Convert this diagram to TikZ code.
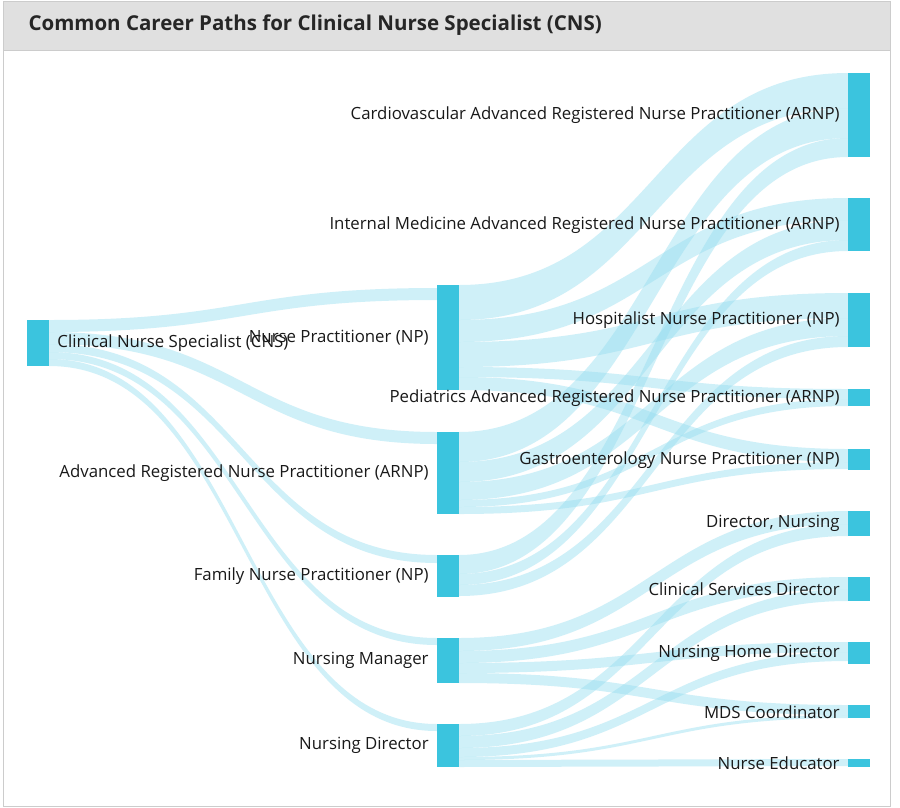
\documentclass[tikz,border=0pt]{standalone}
\usepackage{fontspec}
\setmainfont{Open Sans}
\usetikzlibrary{positioning,calc}
\definecolor{barcol}{RGB}{59,196,222}
\definecolor{flowcol}{RGB}{150,222,240}
\definecolor{headcol}{RGB}{224,224,224}
\tikzset{
  bar/.style={fill=barcol, inner sep=0pt, minimum width=22pt, anchor=north},
  flowband/.style={fill=flowcol, fill opacity=0.45},
  lbl/.style={font=\fontsize{16.8}{19}\selectfont, inner sep=0pt, text=black!90},
}
% band from #1 (offset #2) to #3 (offset #4), width #5
\newcommand\flow[5]{%
  \fill[flowband] let \p1=($(#1.north east)+(0,#2)$), \p2=($(#3.north west)+(0,#4)$),
    \p3=($(\p1)!0.5!(\p2)$) in
    (\p1) .. controls (\x3,\y1) and (\x3,\y2) .. (\p2)
    -- (\x2,\y2-#5pt) .. controls (\x3,\y2-#5pt) and (\x3,\y1-#5pt) .. (\x1,\y1-#5pt) -- cycle;}
\begin{document}
\begin{tikzpicture}[x=1pt,y=-1pt]
  \useasboundingbox (0,0) rectangle (900,807);
  \fill[white] (0,0) rectangle (900,807);
  \draw[black!20, fill=headcol] (3,1) rectangle (890,50);
  \draw[black!20] (3,50) rectangle (890,806);
  \node[anchor=west, font=\bfseries\fontsize{20.5}{24}\selectfont, text=black!85] (title) at (25,25)
    {Common Career Paths for Clinical Nurse Specialist (CNS)};
  % bars
  \node[bar, minimum height=46pt] (cns) at (38,320) {};
  \node[bar, minimum height=105pt] (np) at (448,285) {};
  \node[bar, minimum height=82pt] (arnp) at (448,432) {};
  \node[bar, minimum height=42pt] (fnp) at (448,555) {};
  \node[bar, minimum height=45pt] (mgr) at (448,638) {};
  \node[bar, minimum height=43pt] (dir) at (448,724) {};
  \node[bar, minimum height=84pt] (cardio) at (859,73) {};
  \node[bar, minimum height=53pt] (intmed) at (859,198) {};
  \node[bar, minimum height=54pt] (hosp) at (859,293) {};
  \node[bar, minimum height=17pt] (peds) at (859,389) {};
  \node[bar, minimum height=21pt] (gastro) at (859,449) {};
  \node[bar, minimum height=25pt] (dirn) at (859,511) {};
  \node[bar, minimum height=24pt] (csd) at (859,577) {};
  \node[bar, minimum height=22pt] (nhd) at (859,642) {};
  \node[bar, minimum height=13pt] (mds) at (859,705) {};
  \node[bar, minimum height=8pt] (educ) at (859,759) {};
  % flows
  \flow{cns}{0}{np}{3}{12}
  \flow{cns}{12}{arnp}{0}{12}
  \flow{cns}{24}{fnp}{0}{8}
  \flow{cns}{32}{mgr}{0}{7}
  \flow{cns}{39}{dir}{0}{7}
  \flow{np}{0}{cardio}{0}{35}
  \flow{np}{35}{intmed}{0}{22}
  \flow{np}{57}{hosp}{0}{25}
  \flow{np}{82}{peds}{0}{10}
  \flow{np}{92}{gastro}{0}{13}
  \flow{arnp}{0}{cardio}{35}{30}
  \flow{arnp}{30}{intmed}{22}{20}
  \flow{arnp}{50}{hosp}{25}{18}
  \flow{arnp}{68}{peds}{10}{7}
  \flow{arnp}{75}{gastro}{13}{7}
  \flow{fnp}{0}{cardio}{65}{19}
  \flow{fnp}{19}{intmed}{42}{11}
  \flow{fnp}{30}{hosp}{43}{11}
  \flow{mgr}{0}{dirn}{0}{13}
  \flow{mgr}{13}{csd}{0}{12}
  \flow{mgr}{25}{nhd}{0}{10}
  \flow{mgr}{35}{mds}{0}{10}
  \flow{dir}{0}{dirn}{13}{12}
  \flow{dir}{12}{csd}{12}{12}
  \flow{dir}{24}{nhd}{10}{9}
  \flow{dir}{33}{mds}{10}{3}
  \flow{dir}{36}{educ}{0}{7}
  % labels
  \node[lbl, right=8pt of cns] (cnsl) {Clinical Nurse Specialist (CNS)};
  \node[lbl, left=8pt of np] (npl) {Nurse Practitioner (NP)};
  \node[lbl, left=8pt of arnp] (arnpl) {Advanced Registered Nurse Practitioner (ARNP)};
  \node[lbl, left=8pt of fnp] (fnpl) {Family Nurse Practitioner (NP)};
  \node[lbl, left=8pt of mgr] (mgrl) {Nursing Manager};
  \node[lbl, left=8pt of dir] (dirl) {Nursing Director};
  \node[lbl, left=8pt of cardio] (cardiol) {Cardiovascular Advanced Registered Nurse Practitioner (ARNP)};
  \node[lbl, left=8pt of intmed] (intmedl) {Internal Medicine Advanced Registered Nurse Practitioner (ARNP)};
  \node[lbl, left=8pt of hosp] (hospl) {Hospitalist Nurse Practitioner (NP)};
  \node[lbl, left=8pt of peds] (pedsl) {Pediatrics Advanced Registered Nurse Practitioner (ARNP)};
  \node[lbl, left=8pt of gastro] (gastrol) {Gastroenterology Nurse Practitioner (NP)};
  \node[lbl, left=8pt of dirn] (dirnl) {Director, Nursing};
  \node[lbl, left=8pt of csd] (csdl) {Clinical Services Director};
  \node[lbl, left=8pt of nhd] (nhdl) {Nursing Home Director};
  \node[lbl, left=8pt of mds] (mdsl) {MDS Coordinator};
  \node[lbl, left=8pt of educ] (educl) {Nurse Educator};
\end{tikzpicture}
\end{document}
